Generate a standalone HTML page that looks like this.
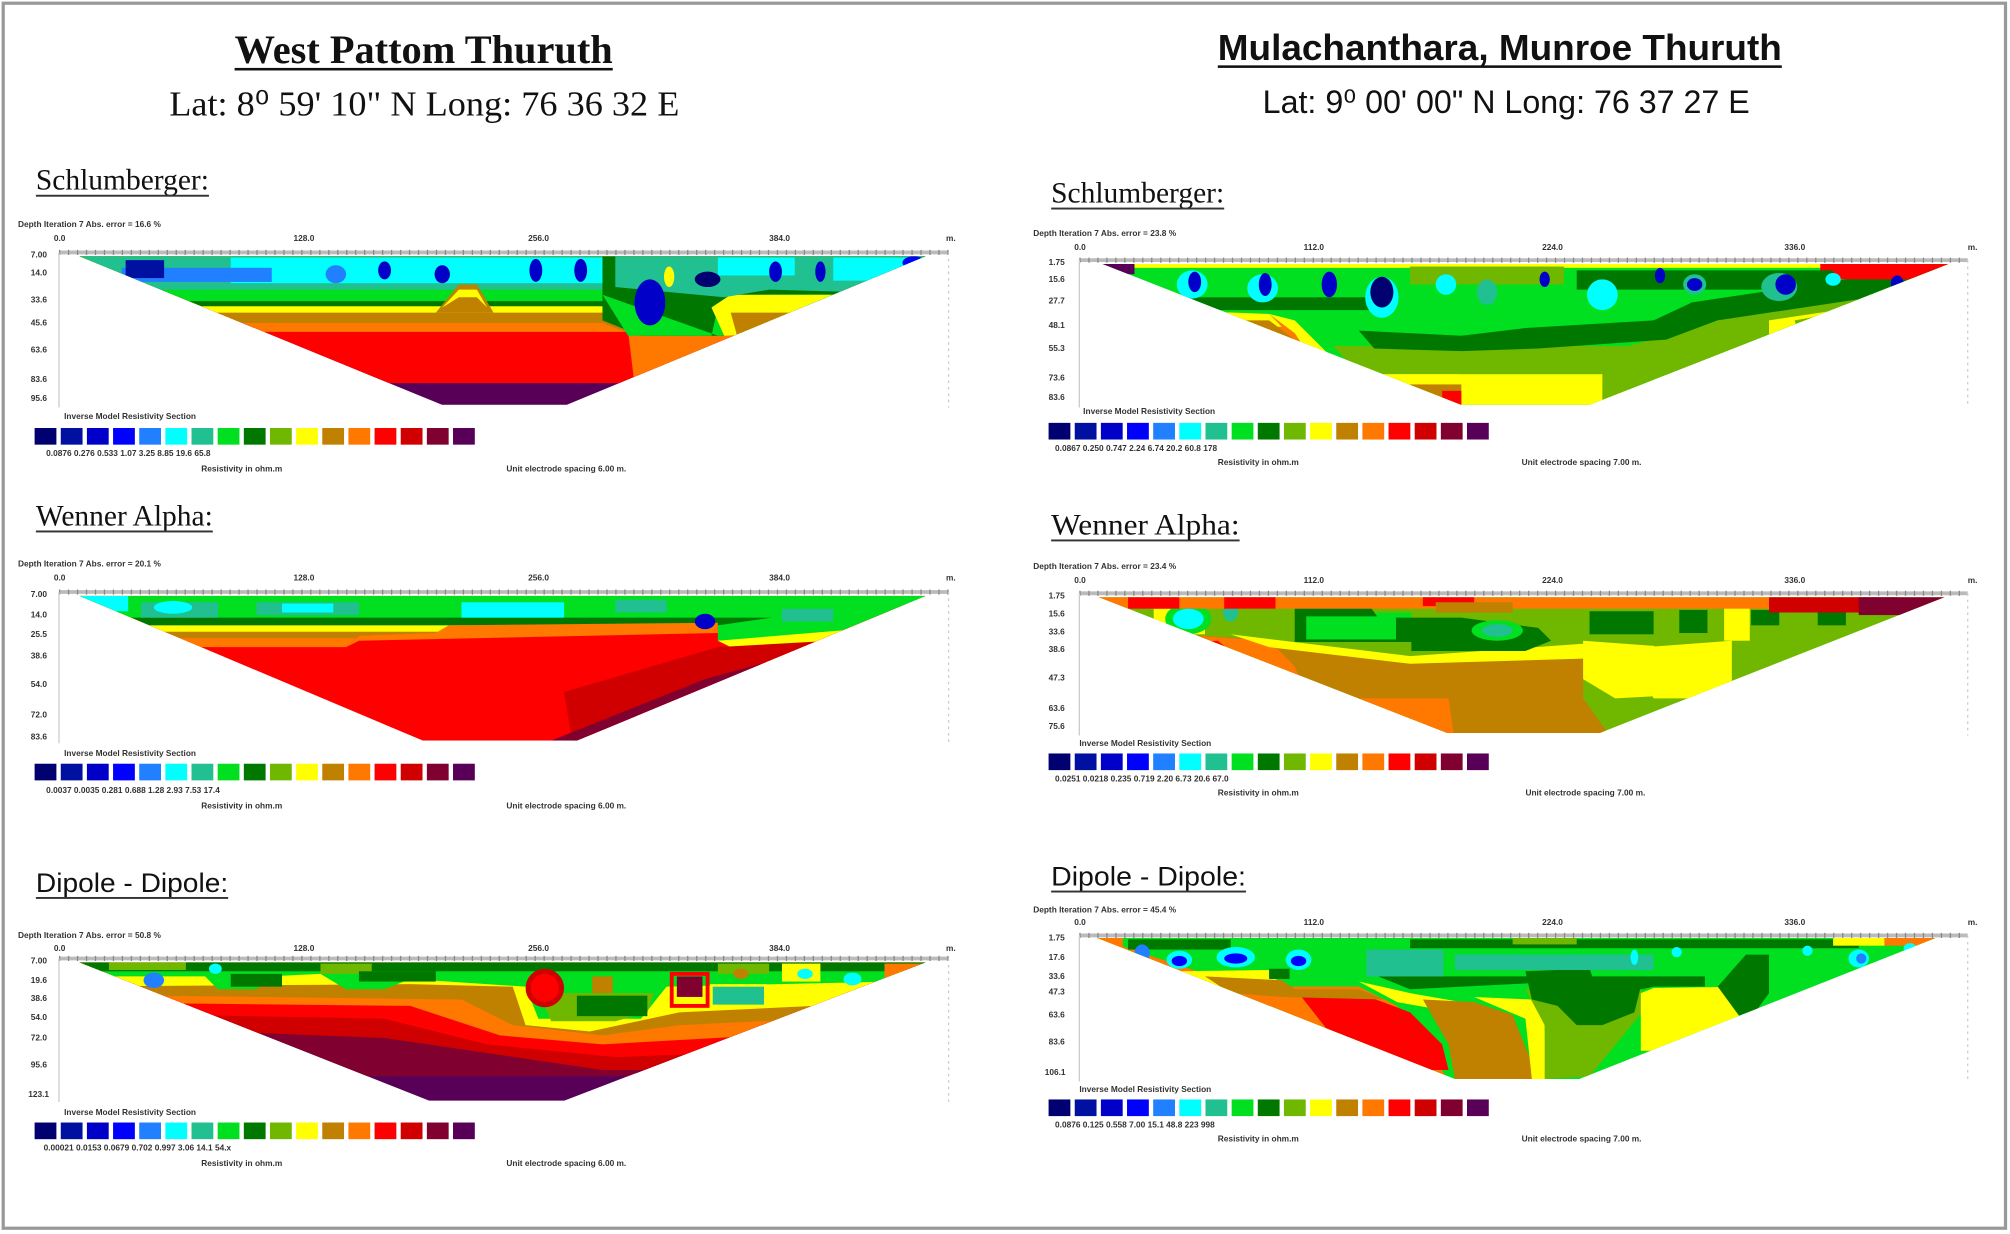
<!DOCTYPE html>
<html><head><meta charset="utf-8"><style>
html,body{margin:0;padding:0;background:#fff}
svg{display:block}
.t{font-family:"Liberation Sans Narrow","Liberation Sans",sans-serif;font-size:6.5px;fill:#333;font-weight:bold}
.sf{font-family:"Liberation Serif",serif;fill:#111}
.ss{font-family:"Liberation Sans",sans-serif;fill:#111}
</style></head><body>
<svg width="2010" height="1234" viewBox="0 0 1568 963" preserveAspectRatio="none" xmlns="http://www.w3.org/2000/svg">
<defs>
<g id="lg">
<rect x="0" width="17" height="13" fill="#000070"/><rect x="20.4" width="17" height="13" fill="#0010a0"/><rect x="40.8" width="17" height="13" fill="#0000c8"/><rect x="61.2" width="17" height="13" fill="#0000ff"/><rect x="81.6" width="17" height="13" fill="#2080ff"/><rect x="102" width="17" height="13" fill="#00ffff"/><rect x="122.4" width="17" height="13" fill="#20c090"/><rect x="142.8" width="17" height="13" fill="#00e020"/><rect x="163.2" width="17" height="13" fill="#007800"/><rect x="183.6" width="17" height="13" fill="#70b800"/><rect x="204" width="17" height="13" fill="#ffff00"/><rect x="224.4" width="17" height="13" fill="#c08000"/><rect x="244.8" width="17" height="13" fill="#ff7800"/><rect x="265.2" width="17" height="13" fill="#ff0000"/><rect x="285.6" width="17" height="13" fill="#d00000"/><rect x="306" width="17" height="13" fill="#800030"/><rect x="326.4" width="17" height="13" fill="#580058"/>
</g>
<clipPath id="c1"><polygon points="62,200 722,200 442,316 345,316"/></clipPath>
<clipPath id="c2"><polygon points="62,465 722,465 450,578 330,578"/></clipPath>
<clipPath id="c3"><polygon points="62,751 722,751 440,859 335,859"/></clipPath>
<clipPath id="c4"><polygon points="860,206 1520,206 1240,316 1140,316"/></clipPath>
<clipPath id="c5"><polygon points="857,466 1517,466 1248,572 1129,572"/></clipPath>
<clipPath id="c6"><polygon points="856,732 1510,732 1232,842 1135,842"/></clipPath>
</defs>

<rect x="2.5" y="2.5" width="1562" height="956" fill="none" stroke="#999" stroke-width="2.5"/>

<text x="183" y="49" class="sf" font-size="31" font-weight="bold" textLength="295" lengthAdjust="spacingAndGlyphs">West Pattom Thuruth</text>
<rect x="183" y="53" width="295" height="2" fill="#111"/>
<text x="132" y="90" class="sf" font-size="27" textLength="398" lengthAdjust="spacingAndGlyphs">Lat: 8⁰ 59' 10" N Long: 76 36 32 E</text>
<text x="950" y="47" class="ss" font-size="28" font-weight="bold" textLength="440" lengthAdjust="spacingAndGlyphs">Mulachanthara, Munroe Thuruth</text>
<rect x="950" y="51" width="440" height="2" fill="#111"/>
<text x="985" y="88" class="ss" font-size="25" textLength="380" lengthAdjust="spacingAndGlyphs">Lat: 9⁰ 00' 00" N Long: 76 37 27 E</text>

<text x="28" y="148" class="sf" font-size="23" textLength="135" lengthAdjust="spacingAndGlyphs">Schlumberger:</text><rect x="28" y="152" width="135" height="1.5" fill="#333"/>
<text x="28" y="410" class="sf" font-size="23" textLength="138" lengthAdjust="spacingAndGlyphs">Wenner Alpha:</text><rect x="28" y="414" width="138" height="1.5" fill="#333"/>
<text x="28" y="696" class="ss" font-size="21" textLength="150" lengthAdjust="spacingAndGlyphs">Dipole - Dipole:</text><rect x="28" y="700" width="150" height="1.5" fill="#333"/>
<text x="820" y="158" class="sf" font-size="23" textLength="135" lengthAdjust="spacingAndGlyphs">Schlumberger:</text><rect x="820" y="162" width="135" height="1.5" fill="#333"/>
<text x="820" y="417" class="sf" font-size="23" textLength="147" lengthAdjust="spacingAndGlyphs">Wenner Alpha:</text><rect x="820" y="421" width="147" height="1.5" fill="#333"/>
<text x="820" y="691" class="ss" font-size="21" textLength="152" lengthAdjust="spacingAndGlyphs">Dipole - Dipole:</text><rect x="820" y="695" width="152" height="1.5" fill="#333"/>

<!-- L1 -->
<text x="14" y="177" class="t">Depth   Iteration 7 Abs. error = 16.6 %</text>
<text x="42" y="188" class="t">0.0</text><text x="229" y="188" class="t">128.0</text><text x="412" y="188" class="t">256.0</text><text x="600" y="188" class="t">384.0</text><text x="738" y="188" class="t">m.</text>
<line x1="46" y1="197" x2="740" y2="197" stroke="#bbb" stroke-width="3"/>
<line x1="46" y1="197" x2="740" y2="197" stroke="#888" stroke-width="4" stroke-dasharray="1 6"/>
<line x1="46" y1="197" x2="46" y2="318" stroke="#ccc"/><line x1="740" y1="197" x2="740" y2="318" stroke="#ccc" stroke-dasharray="2 3"/>
<text x="24" y="201" class="t">7.00</text><text x="24" y="215" class="t">14.0</text><text x="24" y="236" class="t">33.6</text><text x="24" y="254" class="t">45.6</text><text x="24" y="275" class="t">63.6</text><text x="24" y="298" class="t">83.6</text><text x="24" y="313" class="t">95.6</text>
<g clip-path="url(#c1)">
<rect x="40" y="195" width="700" height="130" fill="#580058"/>
<rect x="40" y="195" width="700" height="104" fill="#ff0000"/>
<rect x="40" y="195" width="700" height="64" fill="#ff7800"/>
<rect x="40" y="195" width="700" height="57" fill="#c08000"/>
<rect x="40" y="195" width="700" height="49" fill="#ffff00"/>
<rect x="40" y="195" width="700" height="44" fill="#007800"/>
<rect x="40" y="195" width="700" height="40" fill="#00e020"/>
<rect x="40" y="195" width="700" height="31" fill="#20c090"/>
<rect x="180" y="201" width="290" height="20" fill="#00ffff"/>
<polygon points="490,259 495,300 740,300 740,259" fill="#ff7800"/>
<polygon points="470,252 740,252 740,262 495,262" fill="#c08000"/>
<polygon points="470,200 740,200 740,256 560,262 500,262 470,250" fill="#007800"/>
<polygon points="470,230 490,262 555,262 560,240 600,230 700,230 700,250 560,262" fill="#00e020"/>
<polygon points="555,240 570,230 720,230 720,256 565,262" fill="#ffff00"/>
<polygon points="570,244 720,244 720,262 575,262" fill="#c08000"/>
<polygon points="480,200 740,200 740,230 600,226 565,232 480,224" fill="#20c090"/>
<polygon points="340,244 358,222 372,222 385,244" fill="#c08000"/>
<polygon points="345,240 358,226 372,226 380,240 372,232 358,232" fill="#ffff00"/>
<rect x="95" y="209" width="117" height="11" fill="#2080ff"/>
<rect x="98" y="203" width="30" height="14" fill="#0010a0"/>
<rect x="650" y="201" width="70" height="18" fill="#00ffff"/>
<rect x="560" y="201" width="60" height="14" fill="#00ffff"/>
<ellipse cx="262" cy="214" rx="8" ry="7" fill="#2080ff"/><ellipse cx="300" cy="211" rx="5" ry="7" fill="#0000c8"/>
<ellipse cx="345" cy="214" rx="6" ry="7" fill="#0000c8"/><ellipse cx="418" cy="211" rx="5" ry="9" fill="#0000c8"/><ellipse cx="453" cy="211" rx="5" ry="9" fill="#0000c8"/>
<ellipse cx="507" cy="236" rx="12" ry="18" fill="#0000c8"/><ellipse cx="552" cy="218" rx="10" ry="6" fill="#000070"/>
<ellipse cx="605" cy="212" rx="5" ry="8" fill="#0000c8"/><ellipse cx="640" cy="212" rx="4" ry="8" fill="#0000c8"/><ellipse cx="713" cy="205" rx="9" ry="5" fill="#0000ff"/>
<ellipse cx="522" cy="216" rx="4" ry="8" fill="#ffff00"/>
</g>
<text x="50" y="327" class="t">Inverse Model Resistivity Section</text>
<use href="#lg" x="27" y="334"/>
<text x="36" y="356" class="t">0.0876   0.276   0.533    1.07    3.25    8.85   19.6   65.8</text>
<text x="157" y="368" class="t">Resistivity in ohm.m</text><text x="395" y="368" class="t">Unit electrode spacing 6.00 m.</text>

<!-- L2 -->
<text x="14" y="442" class="t">Depth   Iteration 7 Abs. error = 20.1 %</text>
<text x="42" y="453" class="t">0.0</text><text x="229" y="453" class="t">128.0</text><text x="412" y="453" class="t">256.0</text><text x="600" y="453" class="t">384.0</text><text x="738" y="453" class="t">m.</text>
<line x1="46" y1="462" x2="740" y2="462" stroke="#bbb" stroke-width="3"/>
<line x1="46" y1="462" x2="740" y2="462" stroke="#888" stroke-width="4" stroke-dasharray="1 6"/>
<line x1="46" y1="462" x2="46" y2="580" stroke="#ccc"/><line x1="740" y1="462" x2="740" y2="580" stroke="#ccc" stroke-dasharray="2 3"/>
<text x="24" y="466" class="t">7.00</text><text x="24" y="482" class="t">14.0</text><text x="24" y="497" class="t">25.5</text><text x="24" y="514" class="t">38.6</text><text x="24" y="536" class="t">54.0</text><text x="24" y="560" class="t">72.0</text><text x="24" y="577" class="t">83.6</text>
<g clip-path="url(#c2)">
<rect x="40" y="460" width="700" height="130" fill="#ff0000"/>
<rect x="40" y="460" width="700" height="45" fill="#ff7800"/>
<rect x="40" y="460" width="700" height="38" fill="#c08000"/>
<rect x="40" y="460" width="700" height="33" fill="#ffff00"/>
<rect x="40" y="460" width="700" height="28" fill="#007800"/>
<rect x="40" y="460" width="700" height="22" fill="#00e020"/>
<polygon points="270,505 280,496 360,494 440,490 560,488 720,470 740,470 740,600 560,600" fill="#ff0000"/>
<polygon points="560,488 720,465 740,465 740,490 560,500" fill="#00e020"/>
<polygon points="560,500 740,485 740,495 570,505" fill="#ffff00"/>
<polygon points="440,540 560,505 740,495 740,600 450,600" fill="#d00000"/>
<polygon points="430,578 550,530 740,478 740,600" fill="#800030"/>
<polygon points="445,580 570,535 740,478 740,600" fill="#580058"/>
<polygon points="270,505 280,496 340,494 350,488 560,486 560,494 280,500" fill="#ff7800"/>
<rect x="110" y="470" width="60" height="12" fill="#20c090"/>
<ellipse cx="135" cy="474" rx="15" ry="5" fill="#00ffff"/>
<rect x="60" y="465" width="40" height="12" fill="#00ffff"/>
<rect x="200" y="470" width="80" height="10" fill="#20c090"/><rect x="220" y="471" width="40" height="7" fill="#00ffff"/>
<rect x="360" y="470" width="80" height="12" fill="#00ffff"/>
<rect x="480" y="468" width="40" height="10" fill="#20c090"/>
<ellipse cx="550" cy="485" rx="8" ry="6" fill="#0000c8"/>
<rect x="610" y="475" width="40" height="10" fill="#20c090"/>
</g>
<text x="50" y="590" class="t">Inverse Model Resistivity Section</text>
<use href="#lg" x="27" y="596"/>
<text x="36" y="619" class="t">0.0037   0.0035   0.281    0.688    1.28    2.93    7.53   17.4</text>
<text x="157" y="631" class="t">Resistivity in ohm.m</text><text x="395" y="631" class="t">Unit electrode spacing 6.00 m.</text>

<!-- L3 -->
<text x="14" y="732" class="t">Depth   Iteration 7 Abs. error = 50.8 %</text>
<text x="42" y="742" class="t">0.0</text><text x="229" y="742" class="t">128.0</text><text x="412" y="742" class="t">256.0</text><text x="600" y="742" class="t">384.0</text><text x="738" y="742" class="t">m.</text>
<line x1="46" y1="748" x2="740" y2="748" stroke="#bbb" stroke-width="3"/>
<line x1="46" y1="748" x2="740" y2="748" stroke="#888" stroke-width="4" stroke-dasharray="1 6"/>
<line x1="46" y1="748" x2="46" y2="860" stroke="#ccc"/><line x1="740" y1="748" x2="740" y2="860" stroke="#ccc" stroke-dasharray="2 3"/>
<text x="24" y="752" class="t">7.00</text><text x="24" y="767" class="t">19.6</text><text x="24" y="781" class="t">38.6</text><text x="24" y="796" class="t">54.0</text><text x="24" y="812" class="t">72.0</text><text x="24" y="833" class="t">95.6</text><text x="22" y="856" class="t">123.1</text>
<g clip-path="url(#c3)">
<rect x="40" y="745" width="700" height="120" fill="#580058"/>
<polygon points="40,745 740,745 740,840 40,840" fill="#800030"/>
<polygon points="40,745 740,745 740,835 470,835 300,810 40,800" fill="#d00000"/>
<polygon points="40,745 740,745 740,815 480,825 380,815 300,795 40,790" fill="#ff0000"/>
<polygon points="40,745 740,745 740,800 470,815 390,808 320,785 40,782" fill="#ff7800"/>
<polygon points="40,745 740,745 740,790 530,800 470,808 400,800 360,780 40,776" fill="#c08000"/>
<polygon points="40,745 740,745 740,780 530,790 460,805 410,800 400,770 320,768 40,770" fill="#ffff00"/>
<polygon points="40,745 740,745 740,765 520,770 500,795 420,795 410,770 320,764 300,772 270,772 250,760 210,762 200,772 170,772 160,762 40,762" fill="#00e020"/>
<polygon points="420,775 510,775 505,790 480,797 430,797" fill="#70b800"/>
<rect x="450" y="777" width="55" height="16" fill="#007800"/>
<rect x="60" y="750" width="670" height="8" fill="#007800"/>
<rect x="85" y="751" width="60" height="6" fill="#70b800"/><rect x="250" y="752" width="40" height="8" fill="#70b800"/><rect x="560" y="752" width="40" height="8" fill="#70b800"/>
<rect x="180" y="760" width="40" height="10" fill="#007800"/><rect x="280" y="758" width="60" height="8" fill="#007800"/>
<rect x="610" y="752" width="30" height="14" fill="#ffff00"/>
<rect x="690" y="752" width="30" height="14" fill="#ff7800"/>
<circle cx="425" cy="771" r="15" fill="#d00000"/><circle cx="425" cy="771" r="11" fill="#ff0000"/>
<rect x="462" y="762" width="16" height="13" fill="#c08000"/>
<rect x="528" y="762" width="20" height="16" fill="#800030"/><rect x="524" y="760" width="28" height="25" fill="none" stroke="#ff0000" stroke-width="3"/>
<rect x="555" y="769" width="42" height="16" fill="#20c090"/><rect x="555" y="769" width="42" height="16" fill="none" stroke="#ffff00" stroke-width="2"/>
<ellipse cx="120" cy="765" rx="8" ry="6" fill="#2080ff"/><ellipse cx="168" cy="756" rx="5" ry="4" fill="#00ffff"/>
<ellipse cx="578" cy="760" rx="6" ry="4" fill="#c08000"/><ellipse cx="628" cy="760" rx="6" ry="4" fill="#00ffff"/><ellipse cx="665" cy="764" rx="7" ry="5" fill="#00ffff"/>
</g>
<text x="50" y="870" class="t">Inverse Model Resistivity Section</text>
<use href="#lg" x="27" y="876"/>
<text x="34" y="898" class="t">0.00021   0.0153   0.0679    0.702    0.997    3.06    14.1   54.x</text>
<text x="157" y="910" class="t">Resistivity in ohm.m</text><text x="395" y="910" class="t">Unit electrode spacing 6.00 m.</text>

<!-- R1 -->
<text x="806" y="184" class="t">Depth   Iteration 7 Abs. error = 23.8 %</text>
<text x="838" y="195" class="t">0.0</text><text x="1017" y="195" class="t">112.0</text><text x="1203" y="195" class="t">224.0</text><text x="1392" y="195" class="t">336.0</text><text x="1535" y="195" class="t">m.</text>
<line x1="842" y1="203" x2="1535" y2="203" stroke="#bbb" stroke-width="3"/>
<line x1="842" y1="203" x2="1535" y2="203" stroke="#888" stroke-width="4" stroke-dasharray="1 6"/>
<line x1="842" y1="203" x2="842" y2="318" stroke="#ccc"/><line x1="1535" y1="203" x2="1535" y2="318" stroke="#ccc" stroke-dasharray="2 3"/>
<text x="818" y="207" class="t">1.75</text><text x="818" y="220" class="t">15.6</text><text x="818" y="237" class="t">27.7</text><text x="818" y="256" class="t">48.1</text><text x="818" y="274" class="t">55.3</text><text x="818" y="297" class="t">73.6</text><text x="818" y="312" class="t">83.6</text>
<g clip-path="url(#c4)">
<rect x="840" y="200" width="700" height="120" fill="#00e020"/>
<polygon points="860,240 990,245 1010,260 1030,290 1060,300 1120,310 1140,320 860,320" fill="#ff7800"/>
<polygon points="860,240 990,245 1000,255 860,255" fill="#ffff00"/>
<polygon points="900,250 990,250 1010,265 1030,285 980,270 900,262" fill="#c08000"/>
<polygon points="990,245 1010,250 1040,280 1080,290 1140,292 1270,292 1270,320 1140,320 1060,300 1030,290 1010,260" fill="#ffff00"/>
<rect x="1100" y="300" width="40" height="20" fill="#c08000"/><rect x="1125" y="305" width="15" height="15" fill="#ff0000"/>
<polygon points="1040,270 1270,270 1520,206 1540,206 1540,320 1250,320 1250,292 1060,292" fill="#70b800"/>
<polygon points="1060,258 1140,262 1190,256 1290,250 1320,236 1520,206 1540,206 1540,225 1340,250 1300,265 1200,272 1140,274 1072,272" fill="#007800"/>
<polygon points="1300,265 1340,250 1540,220 1540,320 1300,320" fill="#70b800"/>
<polygon points="1380,250 1480,235 1540,230 1540,320 1380,320" fill="#ffff00"/>
<polygon points="1400,250 1470,238 1540,232 1540,320 1420,320" fill="#70b800"/>
<rect x="900" y="232" width="170" height="10" fill="#007800"/>
<rect x="860" y="206" width="680" height="3" fill="#ffff00"/>
<rect x="1420" y="206" width="100" height="12" fill="#ff0000"/><rect x="860" y="206" width="25" height="8" fill="#580058"/>
<rect x="1100" y="208" width="120" height="14" fill="#70b800"/>
<rect x="1230" y="211" width="200" height="15" fill="#007800"/>
<ellipse cx="930" cy="222" rx="12" ry="11" fill="#00ffff"/><ellipse cx="932" cy="220" rx="5" ry="8" fill="#0000c8"/>
<ellipse cx="985" cy="225" rx="12" ry="11" fill="#00ffff"/><ellipse cx="987" cy="222" rx="5" ry="9" fill="#0000c8"/>
<ellipse cx="1037" cy="222" rx="6" ry="10" fill="#0000c8"/>
<ellipse cx="1078" cy="232" rx="13" ry="16" fill="#00ffff"/><ellipse cx="1078" cy="228" rx="9" ry="12" fill="#000070"/>
<ellipse cx="1128" cy="222" rx="8" ry="8" fill="#00ffff"/><ellipse cx="1160" cy="228" rx="8" ry="10" fill="#20c090"/>
<ellipse cx="1205" cy="218" rx="4" ry="6" fill="#0000c8"/><ellipse cx="1250" cy="230" rx="12" ry="12" fill="#00ffff"/>
<ellipse cx="1295" cy="215" rx="4" ry="6" fill="#0000c8"/><ellipse cx="1322" cy="222" rx="9" ry="8" fill="#20c090"/><ellipse cx="1322" cy="222" rx="6" ry="5" fill="#0000c8"/>
<ellipse cx="1388" cy="224" rx="14" ry="11" fill="#20c090"/><ellipse cx="1393" cy="222" rx="8" ry="8" fill="#0000c8"/>
<ellipse cx="1430" cy="218" rx="6" ry="5" fill="#00ffff"/><ellipse cx="1480" cy="221" rx="5" ry="6" fill="#0000c8"/>
</g>
<text x="845" y="323" class="t">Inverse Model Resistivity Section</text>
<use href="#lg" x="818" y="330"/>
<text x="823" y="352" class="t">0.0867   0.250   0.747    2.24    6.74    20.2   60.8   178</text>
<text x="950" y="363" class="t">Resistivity in ohm.m</text><text x="1187" y="363" class="t">Unit electrode spacing 7.00 m.</text>

<!-- R2 -->
<text x="806" y="444" class="t">Depth   Iteration 7 Abs. error = 23.4 %</text>
<text x="838" y="455" class="t">0.0</text><text x="1017" y="455" class="t">112.0</text><text x="1203" y="455" class="t">224.0</text><text x="1392" y="455" class="t">336.0</text><text x="1535" y="455" class="t">m.</text>
<line x1="842" y1="463" x2="1535" y2="463" stroke="#bbb" stroke-width="3"/>
<line x1="842" y1="463" x2="1535" y2="463" stroke="#888" stroke-width="4" stroke-dasharray="1 6"/>
<line x1="842" y1="463" x2="842" y2="574" stroke="#ccc"/><line x1="1535" y1="463" x2="1535" y2="574" stroke="#ccc" stroke-dasharray="2 3"/>
<text x="818" y="467" class="t">1.75</text><text x="818" y="481" class="t">15.6</text><text x="818" y="495" class="t">33.6</text><text x="818" y="509" class="t">38.6</text><text x="818" y="531" class="t">47.3</text><text x="818" y="555" class="t">63.6</text><text x="818" y="569" class="t">75.6</text>
<g clip-path="url(#c5)">
<rect x="840" y="460" width="700" height="120" fill="#70b800"/>
<polygon points="840,490 1000,500 1040,510 1100,515 1235,510 1235,545 1260,580 840,580" fill="#c08000"/>
<polygon points="840,490 990,500 1010,520 1020,545 1130,545 1135,580 840,580" fill="#ff7800"/>
<polygon points="840,505 950,500 975,520 990,540 990,580 840,580" fill="#ff0000"/>
<polygon points="1235,500 1290,504 1330,520 1350,540 1260,545 1235,530" fill="#ffff00"/>
<polygon points="1270,506 1351,500 1351,545 1290,545" fill="#ffff00"/>
<polygon points="960,495 1100,512 1240,502 1300,505 1300,512 1100,518 990,505" fill="#ffff00"/>
<rect x="1345" y="470" width="20" height="30" fill="#ffff00"/>
<rect x="900" y="475" width="40" height="20" fill="#ffff00"/>
<rect x="1019" y="478" width="82" height="23" fill="#00e020"/>
<polygon points="1010,475 1070,475 1075,482 1140,482 1200,490 1210,500 1190,508 1101,508 1101,501 1010,501" fill="#007800"/>
<rect x="1019" y="481" width="70" height="18" fill="#00e020"/>
<ellipse cx="1168" cy="492" rx="20" ry="8" fill="#00e020"/><ellipse cx="1168" cy="492" rx="12" ry="5" fill="#20c090"/>
<ellipse cx="927" cy="483" rx="18" ry="12" fill="#00e020"/><ellipse cx="927" cy="483" rx="12" ry="8" fill="#00ffff"/>
<ellipse cx="960" cy="478" rx="6" ry="7" fill="#20c090"/>
<rect x="1240" y="477" width="50" height="18" fill="#007800"/>
<rect x="1310" y="476" width="22" height="18" fill="#007800"/>
<rect x="1366" y="476" width="22" height="12" fill="#007800"/>
<rect x="1418" y="476" width="22" height="12" fill="#007800"/>
<rect x="855" y="466" width="665" height="9" fill="#ff7800"/>
<rect x="880" y="466" width="40" height="9" fill="#ff0000"/><rect x="955" y="466" width="40" height="9" fill="#ff0000"/><rect x="1110" y="466" width="40" height="7" fill="#ff0000"/>
<rect x="1380" y="466" width="100" height="12" fill="#d00000"/><rect x="1450" y="466" width="70" height="14" fill="#800030"/>
<rect x="1120" y="470" width="60" height="8" fill="#c08000"/>
</g>
<text x="842" y="582" class="t">Inverse Model Resistivity Section</text>
<use href="#lg" x="818" y="588"/>
<text x="823" y="610" class="t">0.0251   0.0218   0.235    0.719    2.20    6.73    20.6   67.0</text>
<text x="950" y="621" class="t">Resistivity in ohm.m</text><text x="1190" y="621" class="t">Unit electrode spacing 7.00 m.</text>

<!-- R3 -->
<text x="806" y="712" class="t">Depth   Iteration 7 Abs. error = 45.4 %</text>
<text x="838" y="722" class="t">0.0</text><text x="1017" y="722" class="t">112.0</text><text x="1203" y="722" class="t">224.0</text><text x="1392" y="722" class="t">336.0</text><text x="1535" y="722" class="t">m.</text>
<line x1="842" y1="730" x2="1535" y2="730" stroke="#bbb" stroke-width="3"/>
<line x1="842" y1="730" x2="1535" y2="730" stroke="#888" stroke-width="4" stroke-dasharray="1 6"/>
<line x1="842" y1="730" x2="842" y2="844" stroke="#ccc"/><line x1="1535" y1="730" x2="1535" y2="844" stroke="#ccc" stroke-dasharray="2 3"/>
<text x="818" y="734" class="t">1.75</text><text x="818" y="749" class="t">17.6</text><text x="818" y="764" class="t">33.6</text><text x="818" y="776" class="t">47.3</text><text x="818" y="794" class="t">63.6</text><text x="818" y="815" class="t">83.6</text><text x="815" y="839" class="t">106.1</text>
<g clip-path="url(#c6)">
<rect x="840" y="728" width="700" height="120" fill="#00e020"/>
<polygon points="856,732 940,760 1000,770 1060,770 1090,785 1135,850 840,850" fill="#ff7800"/>
<polygon points="1013,775 1060,775 1100,790 1125,815 1130,835 1060,835" fill="#ff0000"/>
<polygon points="920,758 990,757 1000,770 950,775" fill="#ffff00"/>
<polygon points="940,762 1000,765 1010,772 1060,772 1080,780 1000,778 960,775" fill="#c08000"/>
<polygon points="1060,766 1100,775 1140,782 1150,790 1135,790 1090,782" fill="#ffff00"/>
<polygon points="1110,780 1150,782 1180,792 1200,842 1135,842 1130,815" fill="#c08000"/>
<polygon points="1150,778 1195,780 1205,800 1206,842 1195,842 1190,795" fill="#ffff00"/>
<polygon points="1190,772 1280,772 1281,790 1240,840 1205,842 1205,800" fill="#70b800"/>
<polygon points="1190,758 1240,756 1245,770 1280,770 1275,790 1250,800 1230,800 1215,785 1195,780" fill="#007800"/>
<polygon points="1075,762 1330,762 1330,770 1290,770 1281,772 1245,772 1240,765 1100,772" fill="#007800"/>
<polygon points="1280,775 1290,771 1360,770 1362,800 1320,820 1280,820" fill="#ffff00"/>
<polygon points="1362,745 1380,745 1380,775 1362,800 1340,770" fill="#007800"/>
<rect x="1066" y="741" width="60" height="21" fill="#20c090"/>
<rect x="1135" y="745" width="155" height="12" fill="#20c090"/>
<rect x="1100" y="733" width="350" height="7" fill="#007800"/>
<rect x="880" y="733" width="80" height="8" fill="#007800"/>
<rect x="856" y="732" width="20" height="12" fill="#ff7800"/>
<rect x="1470" y="732" width="50" height="6" fill="#ff7800"/><rect x="1430" y="732" width="40" height="6" fill="#ffff00"/>
<rect x="1180" y="732" width="50" height="5" fill="#70b800"/>
<ellipse cx="891" cy="744" rx="6" ry="7" fill="#2080ff"/>
<ellipse cx="920" cy="749" rx="10" ry="7" fill="#00ffff"/><ellipse cx="920" cy="750" rx="6" ry="4" fill="#0000ff"/>
<ellipse cx="964" cy="747" rx="15" ry="8" fill="#00ffff"/><ellipse cx="964" cy="748" rx="9" ry="4" fill="#0000ff"/>
<ellipse cx="1013" cy="749" rx="10" ry="8" fill="#00ffff"/><ellipse cx="1013" cy="750" rx="6" ry="4" fill="#0000ff"/>
<rect x="990" y="756" width="16" height="8" fill="#007800"/>
<ellipse cx="1275" cy="747" rx="3" ry="6" fill="#00ffff"/><ellipse cx="1308" cy="743" rx="4" ry="4" fill="#00ffff"/>
<ellipse cx="1410" cy="742" rx="4" ry="4" fill="#00ffff"/><ellipse cx="1450" cy="748" rx="8" ry="7" fill="#00ffff"/><ellipse cx="1452" cy="748" rx="4" ry="4" fill="#2080ff"/>
<ellipse cx="1490" cy="740" rx="5" ry="4" fill="#00ffff"/>
</g>
<text x="842" y="852" class="t">Inverse Model Resistivity Section</text>
<use href="#lg" x="818" y="858"/>
<text x="823" y="880" class="t">0.0876   0.125   0.558    7.00    15.1   48.8   223   998</text>
<text x="950" y="891" class="t">Resistivity in ohm.m</text><text x="1187" y="891" class="t">Unit electrode spacing 7.00 m.</text>
</svg>
</body></html>
